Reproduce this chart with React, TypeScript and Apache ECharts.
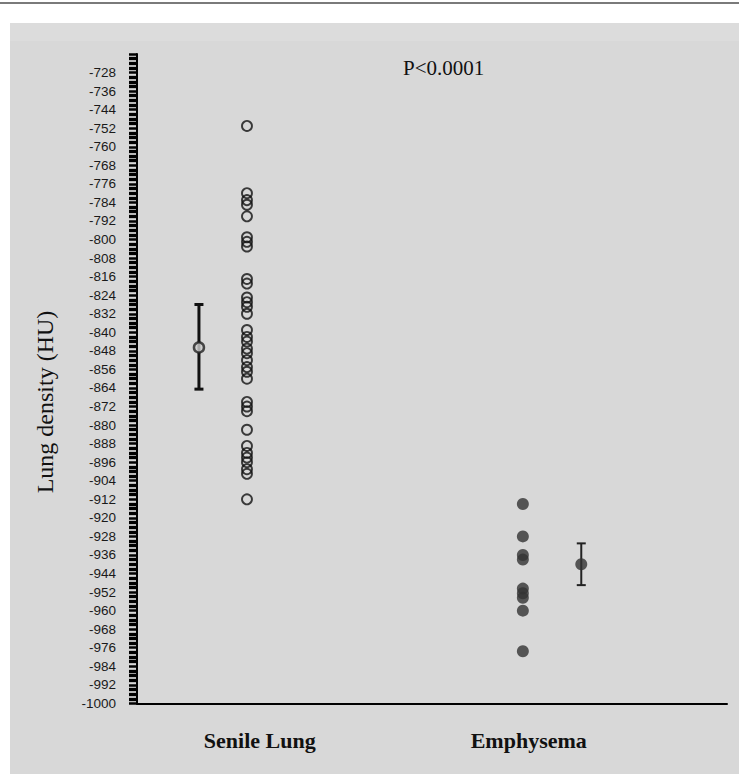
import React, { useEffect, useRef } from "react";
import * as echarts from "echarts";

// ---- data ----
const categories = ["Senile Lung", "Emphysema"];
const categoryLabelPos = [2.08, 6.64];
const pointPos = [1.864, 6.54];
const meanPos = [1.05, 7.53];

const senileValues = [
  -751, -780, -783, -785, -790, -799, -801, -803, -817, -819, -825, -827,
  -829, -832, -839, -842, -844, -847, -849, -852, -855, -857, -860, -870,
  -872, -874, -882, -889, -892, -894, -896, -899, -901, -912,
];
const emphysemaValues = [-914, -928, -936, -938, -950.5, -952.5, -954.5, -960, -977.5];

const groupMeans = [-846.5, -940];
const groupLow = [-864.5, -949];
const groupHigh = [-828, -931];

const yMin = -1000;
const yMax = -720;
const yInterval = 8;
const pValueText = "P<0.0001";
const yAxisTitle = "Lung density (HU)";

export default function App() {
  const ref = useRef<HTMLDivElement>(null);
  useEffect(() => {
    if (!ref.current) return;
    const chart = echarts.init(ref.current, null, { renderer: "svg" });
    const option: any = {
      animation: false,
      backgroundColor: "#ffffff",
      grid: { left: 137, right: 12, top: 54, bottom: 70.6, containLabel: false },
      graphic: [
        {
          type: "rect",
          shape: { x: 10, y: 23, width: 729, height: 751 },
          style: { fill: "#d8d8d8" },
          z: -10,
          silent: true,
        },
        {
          type: "rect",
          shape: { x: 10, y: 23, width: 729, height: 18 },
          style: { fill: "#dcdcdc" },
          z: -9,
          silent: true,
        },
        {
          type: "rect",
          shape: { x: 0, y: 2, width: 739, height: 2 },
          style: { fill: "#7a7a7a" },
          silent: true,
        },
        {
          type: "text",
          x: 45,
          y: 402,
          rotation: Math.PI / 2,
          style: {
            text: yAxisTitle,
            fill: "#111",
            font: '24px "Liberation Serif", serif',
            align: "center",
            verticalAlign: "middle",
          },
          silent: true,
        },
      ],
      title: {
        text: pValueText,
        left: 403,
        top: 57,
        padding: 0,
        textStyle: {
          fontFamily: '"Liberation Serif", serif',
          fontWeight: "normal",
          fontSize: 21,
          color: "#111",
        },
      },
      xAxis: {
        type: "value",
        min: 0,
        max: 10,
        splitLine: { show: false },
        axisTick: { show: false },
        axisLine: { show: true, onZero: false, lineStyle: { color: "#000", width: 2 } },
        axisLabel: {
          show: true,
          customValues: categoryLabelPos,
          margin: 26,
          fontFamily: '"Liberation Serif", serif',
          fontWeight: "bold",
          fontSize: 22,
          color: "#111",
          formatter: (v: number) => {
            const i = categoryLabelPos.findIndex((p) => Math.abs(p - v) < 1e-6);
            return i >= 0 ? categories[i] : "";
          },
        },
      },
      yAxis: {
        type: "value",
        min: yMin,
        max: yMax,
        interval: yInterval,
        splitLine: { show: false },
        axisLine: { show: true, lineStyle: { color: "#000", width: 2 } },
        axisTick: { show: true, length: 8, inside: false, lineStyle: { color: "#000", width: 2.5 } },
        minorTick: { show: true, splitNumber: 4, length: 8, lineStyle: { color: "#000", width: 3.3 } },
        axisLabel: {
          margin: 21,
          showMaxLabel: false,
          fontFamily: '"Liberation Sans", Arial, sans-serif',
          fontSize: 13.5,
          color: "#1a1a1a",
          formatter: (v: number) => String(v),
        },
      },
      series: [
        {
          type: "scatter",
          name: categories[0],
          symbol: "circle",
          symbolSize: 10,
          itemStyle: { color: "rgba(0,0,0,0)", borderColor: "#111", borderWidth: 1.9 },
          data: senileValues.map((v) => [pointPos[0], v]),
          z: 3,
        },
        {
          type: "scatter",
          name: categories[1],
          symbol: "circle",
          symbolSize: 12,
          itemStyle: { color: "#333" },
          data: emphysemaValues.map((v) => [pointPos[1], v]),
          z: 3,
        },
        {
          type: "custom",
          name: "sd",
          z: 4,
          data: groupMeans.map((m, i) => [meanPos[i], groupLow[i], groupHigh[i]]),
          renderItem: (params: any, api: any) => {
            const x = api.value(0);
            const top = api.coord([x, api.value(2)]);
            const bot = api.coord([x, api.value(1)]);
            const lw = params.dataIndex === 0 ? 3 : 2;
            const hw = 4.5;
            const stroke = params.dataIndex === 0 ? "#111" : "#222";
            return {
              type: "group",
              children: [
                { type: "line", shape: { x1: top[0], y1: top[1], x2: bot[0], y2: bot[1] }, style: { stroke, lineWidth: lw } },
                { type: "line", shape: { x1: top[0] - hw, y1: top[1], x2: top[0] + hw, y2: top[1] }, style: { stroke, lineWidth: lw } },
                { type: "line", shape: { x1: bot[0] - hw, y1: bot[1], x2: bot[0] + hw, y2: bot[1] }, style: { stroke, lineWidth: lw } },
              ],
            };
          },
        },
        {
          type: "scatter",
          name: "mean",
          z: 5,
          data: [
            {
              value: [meanPos[0], groupMeans[0]],
              symbolSize: 10,
              itemStyle: { color: "#cfcfcf", borderColor: "#222", borderWidth: 2.5 },
            },
            {
              value: [meanPos[1], groupMeans[1]],
              symbolSize: 12,
              itemStyle: { color: "#333" },
            },
          ],
        },
      ],
    };
    chart.setOption(option);
    return () => chart.dispose();
  }, []);
  return (
    <div
      ref={ref}
      style={{ position: "fixed", left: 0, top: 0, width: 739, height: 774, background: "#fff" }}
    />
  );
}
